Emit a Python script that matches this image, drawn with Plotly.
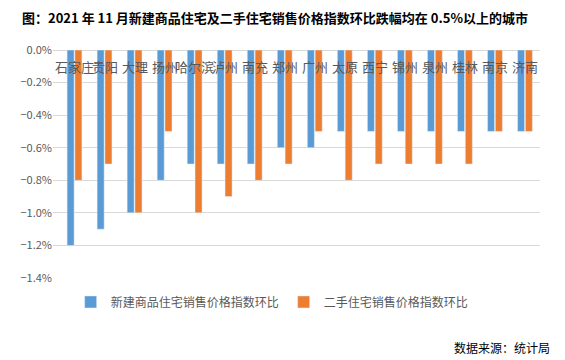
import plotly.graph_objects as go

cities = ["石家庄", "贵阳", "大理", "扬州", "哈尔滨", "泸州", "南充", "郑州",
          "广州", "太原", "西宁", "锦州", "泉州", "桂林", "南京", "济南"]
new_home = [-1.2, -1.1, -1.0, -0.8, -0.7, -0.7, -0.7, -0.6,
            -0.6, -0.5, -0.5, -0.5, -0.5, -0.5, -0.5, -0.5]
second_hand = [-0.8, -0.7, -1.0, -0.5, -1.0, -0.9, -0.8, -0.7,
               -0.5, -0.8, -0.7, -0.7, -0.7, -0.7, -0.5, -0.5]
series_names = ["新建商品住宅销售价格指数环比", "二手住宅销售价格指数环比"]
title_text = "图：2021 年 11 月新建商品住宅及二手住宅销售价格指数环比跌幅均在 0.5%以上的城市"
source_text = "数据来源：统计局"

font_cjk = "Noto Sans CJK SC, Microsoft YaHei, sans-serif"

fig = go.Figure()
fig.add_trace(go.Bar(x=cities, y=new_home, name=series_names[0], marker_color="#5B9BD5"))
fig.add_trace(go.Bar(x=cities, y=second_hand, name=series_names[1], marker_color="#ED7D31"))

# category labels just below the zero line (Excel style)
cat_labels = [dict(text=c, x=c, y=0, xref="x", yref="y", yshift=-16, showarrow=False,
                   xanchor="center", yanchor="middle",
                   font=dict(size=13, color="#595959", family=font_cjk))
              for c in cities]

fig.update_layout(
    width=557, height=352,
    margin=dict(l=37, r=25, t=42, b=82),
    paper_bgcolor="white", plot_bgcolor="white",
    barmode="group", bargap=0.48, bargroupgap=0.1,
    font=dict(family=font_cjk, color="#595959"),
    showlegend=True,
    legend=dict(orientation="h", x=0.45, xanchor="center", y=-0.105, yanchor="middle",
                font=dict(size=12, color="#595959"), traceorder="normal"),
    xaxis=dict(showticklabels=False, showgrid=False, showline=False, ticks=""),
    yaxis=dict(range=[-1.4, 0], dtick=0.2, tickformat=".1f", ticksuffix="%",
               showgrid=True, gridcolor="#D9D9D9", gridwidth=1, zeroline=True,
               zerolinecolor="#D9D9D9", zerolinewidth=1, showline=False,
               tickfont=dict(size=11, color="#595959")),
    annotations=cat_labels + [
        dict(text=title_text, xref="paper", yref="paper", x=0.455, y=1.0, yshift=33,
             xanchor="center", yanchor="middle", showarrow=False,
             font=dict(size=13, color="black", family=font_cjk, weight="bold")),
        dict(text=source_text, xref="paper", yref="paper", x=1.0, xshift=12, y=-0.303, yanchor="middle",
             xanchor="right", showarrow=False,
             font=dict(size=12, color="black", family=font_cjk)),
    ],
)

fig.write_html("out.html")
